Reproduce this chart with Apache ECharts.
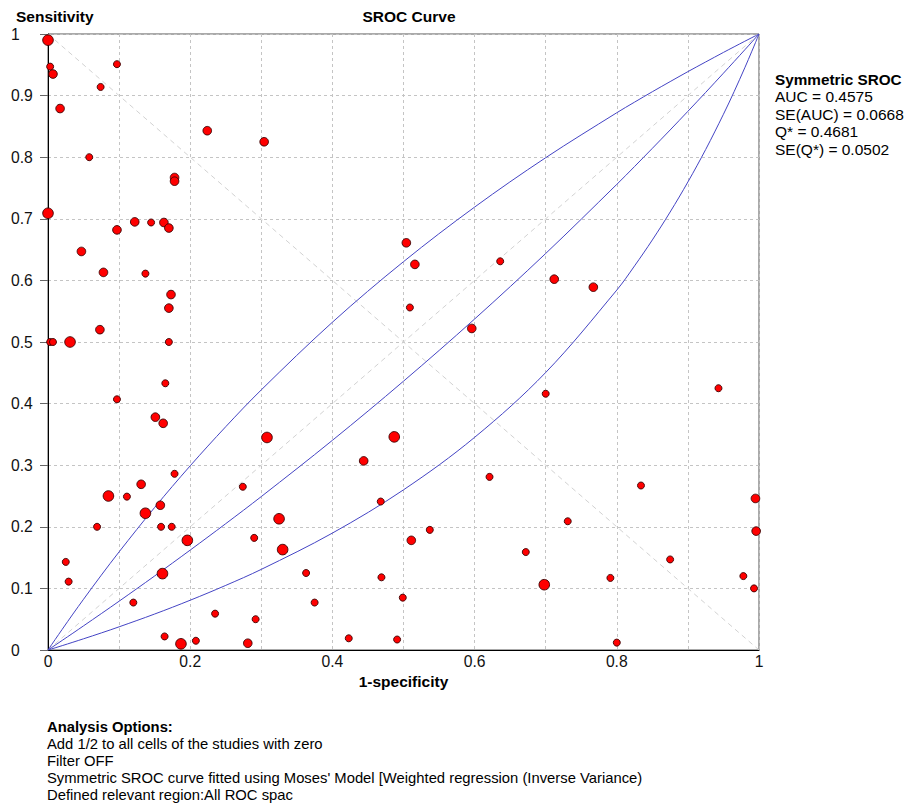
<!DOCTYPE html>
<html><head><meta charset="utf-8">
<script src="https://cdn.jsdelivr.net/npm/echarts@6/dist/echarts.min.js"></script>
<style>html,body{margin:0;padding:0;background:#fff}#c{width:909px;height:812px}</style>
</head><body><div id="c"></div>
<script>
// Study points (1-specificity, sensitivity, relative weight class)
const fpr = [0.000,0.003,0.007,0.097,0.074,0.017,0.058,0.178,0.178,0.224,0.304,0.000,0.097,0.122,0.145,0.163,0.170,0.047,0.078,0.137,0.173,0.170,0.073,0.003,0.007,0.031,0.170,0.165,0.097,0.151,0.162,0.178,0.131,0.085,0.111,0.158,0.137,0.069,0.159,0.174,0.196,0.025,0.029,0.161,0.120,0.164,0.187,0.208,0.235,0.274,0.281,0.290,0.292,0.308,0.325,0.330,0.487,0.444,0.468,0.621,0.537,0.511,0.672,0.363,0.469,0.375,0.499,0.423,0.491,0.504,0.516,0.636,0.509,0.596,0.712,0.767,0.700,0.943,0.834,0.995,0.731,0.996,0.875,0.791,0.698,0.978,0.993,0.800];
const tpr = [0.990,0.947,0.935,0.951,0.914,0.879,0.800,0.767,0.761,0.843,0.825,0.709,0.682,0.695,0.694,0.694,0.685,0.647,0.613,0.611,0.577,0.555,0.520,0.500,0.500,0.500,0.500,0.433,0.407,0.378,0.368,0.286,0.269,0.250,0.249,0.235,0.222,0.200,0.200,0.200,0.178,0.143,0.111,0.124,0.077,0.022,0.010,0.015,0.059,0.265,0.011,0.182,0.050,0.345,0.213,0.163,0.346,0.307,0.241,0.281,0.195,0.178,0.159,0.125,0.118,0.077,0.085,0.019,0.017,0.661,0.626,0.631,0.556,0.522,0.602,0.589,0.416,0.425,0.267,0.246,0.209,0.193,0.147,0.117,0.106,0.120,0.100,0.012];
const studyWeight = [3,1,2,1,1,2,1,2,2,2,2,3,2,2,1,2,2,2,2,1,2,2,2,1,1,3,1,1,1,2,2,1,2,3,1,2,3,1,1,1,3,1,1,3,1,1,3,1,1,1,2,1,1,3,3,3,3,2,1,1,1,2,1,1,1,1,1,1,1,2,2,1,1,2,2,2,1,1,1,2,1,2,1,1,3,1,1,1];

// SROC curve (symmetric Moses model) and its band, read at these 1-specificity values
const curveFpr  = [0,0.0025,0.005,0.01,0.02,0.035,0.05,0.075,0.1,0.15,0.2,0.25,0.3,0.4,0.5,0.6,0.7,0.8,0.825,0.85,0.875,0.9,0.925,0.95,0.965,0.98,0.99,0.995,1];
const srocUpper = [0,0.0043,0.0085,0.0169,0.0336,0.0583,0.0824,0.1215,0.1593,0.2314,0.2990,0.3625,0.4223,0.5321,0.6304,0.7190,0.7992,0.8722,0.8894,0.9063,0.9227,0.9389,0.9546,0.9701,0.9792,0.9882,0.9941,0.9971,1];
const srocMid   = [0,0.0019,0.0039,0.0078,0.0156,0.0273,0.0392,0.0591,0.0792,0.1202,0.1622,0.2051,0.2491,0.3404,0.4364,0.5373,0.6437,0.7559,0.7849,0.8144,0.8442,0.8745,0.9052,0.9364,0.9553,0.9743,0.9871,0.9936,1];
const srocLower = [0,0.0009,0.0018,0.0035,0.0071,0.0126,0.0182,0.0277,0.0376,0.0584,0.0808,0.1049,0.1309,0.1898,0.2600,0.3452,0.4505,0.5843,0.6236,0.6657,0.7110,0.7598,0.8125,0.8697,0.9064,0.9451,0.9721,0.9859,1];

const chanceLine = [[0,0],[1,1]];
const crossLine = [[0,1],[1,0]];

const xTickLabels = ['0','0.2','0.4','0.6','0.8','1'];
const yTickLabels = ['0','0.1','0.2','0.3','0.4','0.5','0.6','0.7','0.8','0.9','1'];

const statsTitle = 'Symmetric SROC';
const statsLines = ['AUC = 0.4575','SE(AUC) = 0.0668','Q* = 0.4681','SE(Q*) = 0.0502'];
const optionsTitle = 'Analysis Options:';
const optionLines = ['Add 1/2 to all cells of the studies with zero','Filter OFF',"Symmetric SROC curve fitted using Moses' Model [Weighted regression (Inverse Variance)",'Defined relevant region:All ROC spac'];

const FONT = 'Liberation Sans, Arial, Helvetica, sans-serif';
const sizeByWeight = {1: 7, 2: 8.6, 3: 10.6};

const points = fpr.map((x, i) => [x, tpr[i], studyWeight[i]]);
const zip = ys => curveFpr.map((x, i) => [x, ys[i]]);

const graphic = [];
function txt(x, y, s, bold, size, lh, align) {
  graphic.push({type: 'text', x: x, y: y, silent: true,
    style: {text: s, fill: '#000', fontFamily: FONT, fontWeight: bold ? 'bold' : 'normal', fontSize: size,
      lineHeight: lh, textAlign: align || 'left', textVerticalAlign: 'middle'}});
}
txt(16, 16, 'Sensitivity', true, 15.5, 18);
txt(409, 16, 'SROC Curve', true, 15.5, 18, 'center');
// right-hand statistics block
graphic.push({type: 'text', x: 775, y: 70.5, silent: true,
  style: {text: '{b|' + statsTitle + '}\n' + statsLines.join('\n'), fill: '#000', fontFamily: FONT,
    fontSize: 15.5, lineHeight: 17.5, textAlign: 'left', textVerticalAlign: 'top',
    rich: {b: {fontWeight: 'bold', fontSize: 15.3, lineHeight: 17.5, fontFamily: FONT, fill: '#000'}}}});
// analysis options block
graphic.push({type: 'text', x: 47, y: 718.5, silent: true,
  style: {text: '{b|' + optionsTitle + '}\n' + optionLines.join('\n'), fill: '#000', fontFamily: FONT,
    fontSize: 14.8, lineHeight: 17, textAlign: 'left', textVerticalAlign: 'top',
    rich: {b: {fontWeight: 'bold', fontSize: 14.8, lineHeight: 17, fontFamily: FONT, fill: '#000'}}}});

const chart = echarts.init(document.getElementById('c'), null, {renderer: 'svg'});
chart.setOption({
  animation: false,
  backgroundColor: '#fff',
  grid: {left: 48, top: 34, right: 150, bottom: 162, show: true, borderColor: '#555', borderWidth: 1, backgroundColor: 'transparent'},
  xAxis: {
    type: 'value', min: 0, max: 1, interval: 0.1,
    name: '1-specificity', nameLocation: 'middle', nameGap: 14,
    nameTextStyle: {fontFamily: FONT, fontWeight: 'bold', fontSize: 15.5, color: '#000'},
    axisLine: {show: true, onZero: false, lineStyle: {color: '#000', width: 1}},
    axisTick: {show: false},
    axisLabel: {margin: 3, fontFamily: FONT, fontSize: 15.7, color: '#111',
      formatter: v => { const i = Math.round(v * 10); return i % 2 === 0 ? xTickLabels[i / 2] : ''; }},
    splitLine: {show: true, lineStyle: {color: '#c4c4c4', type: [3, 3], width: 1}}
  },
  yAxis: {
    type: 'value', min: 0, max: 1, interval: 0.1,
    axisLine: {show: true, onZero: false, lineStyle: {color: '#000', width: 1}},
    axisTick: {show: true, length: 8, lineStyle: {color: '#666'}},
    axisLabel: {margin: 37, align: 'left', fontFamily: FONT, fontSize: 15.7, color: '#111',
      formatter: v => yTickLabels[Math.round(v * 10)]},
    splitLine: {show: true, lineStyle: {color: '#c4c4c4', type: [3, 3], width: 1}}
  },
  graphic: graphic,
  series: [
    {type: 'line', data: chanceLine, symbol: 'none', silent: true, lineStyle: {color: '#d2d2d2', width: 1, type: [5, 4]}, z: 1},
    {type: 'line', data: crossLine, symbol: 'none', silent: true, lineStyle: {color: '#d2d2d2', width: 1, type: [5, 4]}, z: 1},
    {type: 'line', data: zip(srocUpper), symbol: 'none', silent: true, smooth: 0.35, lineStyle: {color: '#4444c4', width: 1}, z: 2},
    {type: 'line', data: zip(srocMid), symbol: 'none', silent: true, smooth: 0.35, lineStyle: {color: '#4444c4', width: 1}, z: 2},
    {type: 'line', data: zip(srocLower), symbol: 'none', silent: true, smooth: 0.35, lineStyle: {color: '#4444c4', width: 1}, z: 2},
    {type: 'scatter', data: points, clip: false, z: 5,
      symbolSize: d => sizeByWeight[d[2]],
      itemStyle: {color: '#ff0000', borderColor: '#3a0000', borderWidth: 0.9, opacity: 1}}
  ]
});
</script></body></html>
